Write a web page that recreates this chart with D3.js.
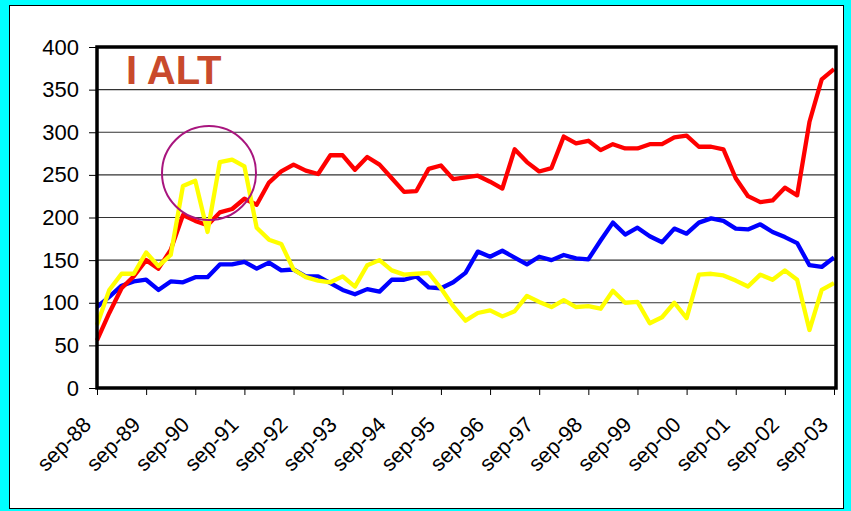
<!DOCTYPE html>
<html>
<head>
<meta charset="utf-8">
<script src="https://cdn.jsdelivr.net/npm/d3@7"></script>
<style>
  html, body { margin: 0; padding: 0; background: #00ffff; }
  svg { display: block; }
</style>
</head>
<body>
<script>
// quarterly categories, sep-88 .. sep-03
var months = ["sep", "dec", "mar", "jun"];
var startYear = 88, nQuarters = 61;

// series values
var redValues = [56, 88, 117, 131, 150, 140, 162, 203, 196, 191, 206, 210, 222, 215, 241, 254,
  262, 255, 251, 273, 273, 256, 271, 262, 246, 230, 231, 257, 261, 245, 247, 249,
  242, 234, 280, 265, 254, 258, 295, 287, 290, 279, 286, 281, 281, 286, 286, 294,
  296, 283, 283, 280, 246, 225, 218, 220, 235, 226, 312, 362, 374];
var blueValues = [95, 107, 120, 125, 127, 115, 125, 124, 130, 130, 145, 145, 148, 140, 147, 138,
  139, 131, 131, 123, 115, 110, 116, 113, 127, 127, 131, 118, 117, 124, 135, 160,
  154, 161, 153, 145, 154, 150, 156, 152, 151, 173, 194, 180, 188, 178, 171, 187,
  181, 194, 199, 196, 187, 186, 192, 183, 177, 170, 144, 142, 153];
var yellowValues = [74, 115, 134, 134, 159, 143, 156, 237, 243, 183, 265, 268, 260, 188, 174, 169,
  139, 130, 126, 124, 131, 119, 144, 150, 138, 133, 134, 135, 117, 96, 79, 88,
  91, 84, 90, 108, 101, 95, 103, 95, 96, 93, 114, 100, 101, 76, 83, 100,
  82, 133, 134, 132, 126, 119, 133, 127, 138, 127, 68, 115, 123];
var yTicks = [0, 50, 100, 150, 200, 250, 300, 350, 400];
var title = "I ALT";

var quarters = d3.range(nQuarters).map(function(i) {
  var yr = (startYear + Math.floor((i + 1) / 4)) % 100;
  return months[i % 4] + "-" + (yr < 10 ? "0" + yr : "" + yr);
});

var W = 851, H = 511;
var plot = {left: 97, right: 834, top: 47, bottom: 388};

var svg = d3.select("body").append("svg")
    .attr("width", W)
    .attr("height", H)
    .style("font-family", "'Liberation Sans', Arial, sans-serif");

// cyan frame + white chart area
svg.append("rect").attr("width", W).attr("height", H).attr("fill", "#00ffff");
svg.append("rect")
    .attr("x", 9.5).attr("y", 5.5)
    .attr("width", 834).attr("height", 503)
    .attr("fill", "#ffffff")
    .attr("stroke", "#000").attr("stroke-width", 1);

var x = d3.scalePoint().domain(quarters).range([plot.left, plot.right]);
var y = d3.scaleLinear().domain([0, 400]).range([plot.bottom, plot.top]);

// gridlines
svg.append("g")
  .selectAll("line")
  .data(yTicks.filter(function(d) { return d > 0 && d < 400; }))
  .enter().append("line")
    .attr("x1", plot.left).attr("x2", 836)
    .attr("y1", function(d) { return y(d); })
    .attr("y2", function(d) { return y(d); })
    .attr("stroke", "#333").attr("stroke-width", 1.2);

// y axis
var yAxis = svg.append("g")
    .attr("transform", "translate(" + plot.left + ",0)")
    .call(d3.axisLeft(y).tickValues(yTicks).tickSize(8).tickPadding(10));
yAxis.select(".domain").remove();
yAxis.selectAll("line").attr("stroke", "#000");
yAxis.selectAll("text").style("font-size", "22px").attr("fill", "#000");

// x axis
var xAxis = svg.append("g")
    .attr("transform", "translate(0," + plot.bottom + ")")
    .call(d3.axisBottom(x)
      .tickValues(quarters.filter(function(q) { return q.indexOf("sep") === 0; }))
      .tickSize(7));
xAxis.select(".domain").remove();
xAxis.selectAll("line").attr("stroke", "#000");
xAxis.selectAll("text")
    .attr("x", 0).attr("y", 0).attr("dy", 0)
    .attr("transform", "translate(-5,38) rotate(-45)")
    .style("text-anchor", "end")
    .style("font-size", "21.5px")
    .attr("fill", "#000");

// lines
var line = d3.line()
    .x(function(d, i) { return x(quarters[i]); })
    .y(function(d) { return y(d); });

[["#0000ff", blueValues], ["#ff0000", redValues], ["#ffff00", yellowValues]].forEach(function(s) {
  svg.append("path")
    .datum(s[1])
    .attr("d", line)
    .attr("fill", "none")
    .attr("stroke", s[0])
    .attr("stroke-width", 4.3)
    .attr("stroke-linejoin", "round");
});

// plot border
svg.append("rect")
    .attr("x", plot.left).attr("y", plot.top)
    .attr("width", 836 - plot.left).attr("height", plot.bottom - plot.top)
    .attr("fill", "none")
    .attr("stroke", "#000").attr("stroke-width", 3.5);

// title
svg.append("text")
    .attr("x", 126).attr("y", 84)
    .style("font-size", "40px")
    .style("font-weight", "bold")
    .attr("fill", "#c94a2c")
    .text(title);

// highlight circle
svg.append("circle")
    .attr("cx", 209).attr("cy", 173).attr("r", 47)
    .attr("fill", "none")
    .attr("stroke", "#a8157e")
    .attr("stroke-width", 2);
</script>
</body>
</html>
